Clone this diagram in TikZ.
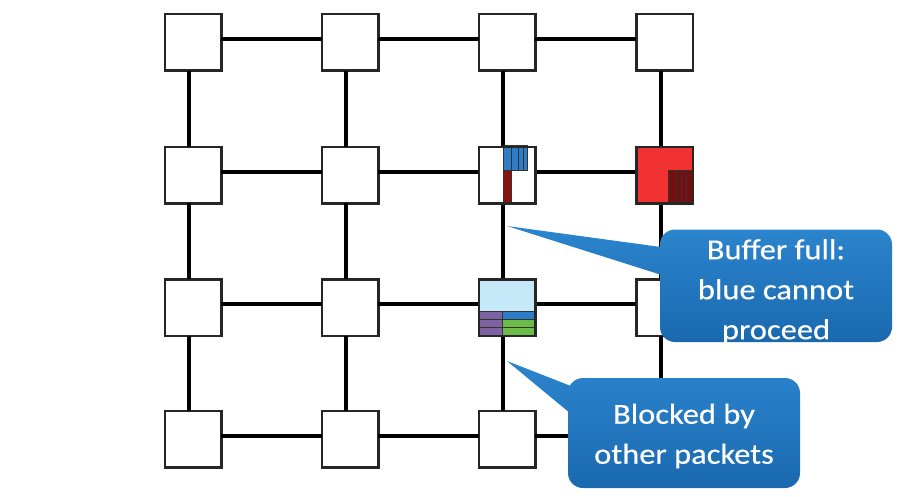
\documentclass[tikz,border=0pt]{standalone}
\usepackage{fontspec}
\newfontfamily\callfont[FakeStretch=1.12,FakeBold=0.4]{Carlito}
\definecolor{callblueT}{HTML}{2C85CE}
\definecolor{callblueB}{HTML}{1A69AF}
\definecolor{flitblue}{HTML}{2F7DC6}
\definecolor{flitdarkred}{HTML}{8A1212}
\definecolor{routerred}{HTML}{F03232}
\definecolor{lightcyan}{HTML}{C6E9F9}
\definecolor{flitpurple}{HTML}{7E63A2}
\definecolor{flitgreen}{HTML}{6CBB48}
\tikzset{
  router/.style={draw=black!85, line width=2.5pt, fill=white, minimum size=56.5pt, inner sep=0pt, outer sep=0pt},
  link/.style={line width=4pt, black},
  flit/.style={draw=black!80, line width=0.8pt},
  callout/.style={top color=callblueT, bottom color=callblueB},
  calltext/.style={text=white, align=center, inner sep=0pt, font=\callfont\fontsize{29}{40}\selectfont}
}
\begin{document}
\begin{tikzpicture}[x=1pt,y=-1pt]
\useasboundingbox (0,0) rectangle (906,496);
% routers
\foreach \c/\x in {1/193,2/350,3/507,4/664.5}{
  \foreach \r/\y in {1/42.3,2/175,3/307.5,4/439.3}{
    \node[router] (r\r\c) at (\x,\y) {};
  }
}
% horizontal links
\foreach \r in {1,2,3,4}{
  \foreach \c/\d in {1/2,2/3,3/4}{
    \draw[link] ([yshift=3.5pt]r\r\c.east) -- ([yshift=3.5pt]r\r\d.west);
  }
}
% vertical links
\foreach \c in {1,2,3,4}{
  \foreach \r/\s in {1/2,2/3,3/4}{
    \draw[link] ([xshift=-4pt]r\r\c.south) -- ([xshift=-4pt]r\s\c.north);
  }
}
% router r23 : blue flits and dark red flit
\fill[flitblue] (503,145.7) rectangle (527.7,170.7);
\draw[flit] (503,145.7) rectangle (527.7,170.7);
\draw[flit] (511.5,145.7) -- (511.5,170.7) (518.5,145.7) -- (518.5,170.7) (523,145.7) -- (523,170.7);
\fill[flitdarkred] (503,170.7) rectangle (511,204);
\draw[flit] (503,170.7) rectangle (511,204);
\draw[router, fill=none] (r23.north west) rectangle (r23.south east);
% router r24 : red with dark red buffer
\fill[routerred] (r24.north west) rectangle (r24.south east);
\fill[flitdarkred!85!black] (668,170.7) rectangle (692.7,204);
\draw[flit] (668,170.7) rectangle (692.7,204);
\draw[flit] (676,170.7) -- (676,204) (681,170.7) -- (681,204) (686,170.7) -- (686,204);
\draw[router, fill=none] (r24.north west) rectangle (r24.south east);
% router r33 : light blue with purple/blue/green flits
\fill[lightcyan] (r33.north west) rectangle (r33.south east);
\fill[flitpurple] (477.7,311) rectangle (502.7,336.7);
\fill[flitblue] (502.7,311) rectangle (536.7,319);
\fill[flitgreen] (502.7,319) rectangle (536.7,336.7);
\draw[flit] (477.7,311) -- (536.7,311) (477.7,319) -- (536.7,319) (477.7,327.7) -- (536.7,327.7) (502.7,311) -- (502.7,336.7);
\draw[router, fill=none] (r33.north west) rectangle (r33.south east);
% callout 1
\shade[callout] (507,226) -- (668,248) -- (668,277) -- cycle
  [rounded corners=15pt] (660,229.5) -- (892,229.5) -- (892,342) -- (660,342) -- cycle;
\node[calltext] (t1) at (776,291.5) {Buffer full:\\blue cannot\\proceed};
% callout 2
\shade[callout] (507,361) -- (576,388) -- (576,418) -- cycle
  [rounded corners=15pt] (568,378) -- (800,378) -- (800,488) -- (568,488) -- cycle;
\node[calltext] (t2) at (684,436) {Blocked by\\other packets};
\end{tikzpicture}
\end{document}
